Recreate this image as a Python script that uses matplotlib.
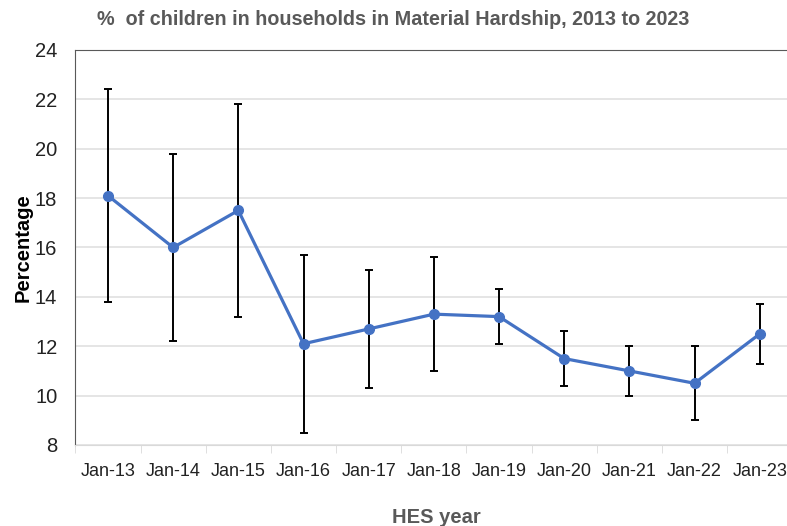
import matplotlib.pyplot as plt
import numpy as np

plt.rcParams['font.family'] = ['Liberation Sans', 'DejaVu Sans']

years = ["Jan-13", "Jan-14", "Jan-15", "Jan-16", "Jan-17", "Jan-18",
         "Jan-19", "Jan-20", "Jan-21", "Jan-22", "Jan-23"]
pct = [18.1, 16.0, 17.5, 12.1, 12.7, 13.3, 13.2, 11.5, 11.0, 10.5, 12.5]
ci_low = [13.8, 12.2, 13.2, 8.5, 10.3, 11.0, 12.1, 10.4, 10.0, 9.0, 11.3]
ci_high = [22.4, 19.8, 21.8, 15.7, 15.1, 15.6, 14.3, 12.6, 12.0, 12.0, 13.7]

x = np.arange(len(years))
pct_a = np.array(pct)
yerr = [pct_a - np.array(ci_low), np.array(ci_high) - pct_a]

fig = plt.figure(figsize=(7.87, 5.26), dpi=100)
ax = fig.add_axes([0.0958, 0.154, 0.911, 0.751])

ax.errorbar(x, pct, yerr=yerr, fmt="none", ecolor="black", elinewidth=1.4,
            capsize=3, capthick=1.4, zorder=2)
ax.plot(x, pct, color="#4472C4", lw=2.3, marker="o", ms=7, zorder=3)

ax.set_xlim(-0.5, len(years) - 0.5)
ax.set_ylim(8, 24)
ax.set_yticks(range(8, 25, 2))
ax.tick_params(axis="y", length=0, pad=13, labelsize=14.5, colors="#222222")
ax.set_xticks(x)
ax.set_xticklabels(years)
ax.set_xticks(np.arange(-0.5, len(years)), minor=True)
ax.tick_params(axis="x", which="major", length=0, pad=13, labelsize=13,
               colors="#222222")
ax.tick_params(axis="x", which="minor", length=6, color="#d9d9d9")

ax.grid(axis="y", color="#e0e0e0", lw=1.2)
ax.set_axisbelow(True)
for side in ["left", "top"]:
    ax.spines[side].set_color("#595959")
ax.spines["bottom"].set_color("#d9d9d9")
ax.spines["right"].set_visible(False)

ax.set_ylabel("Percentage", fontsize=14.5, fontweight="bold", labelpad=2)
fig.text(0.555, 0.017, "HES year", fontsize=14.5, fontweight="bold",
         color="#595959", ha="center", va="center")
fig.text(0.5, 0.962, "%  of children in households in Material Hardship, 2013 to 2023",
         fontsize=14.2, fontweight="bold", color="#595959", ha="center", va="center")

fig.savefig("out.png", dpi=100)
